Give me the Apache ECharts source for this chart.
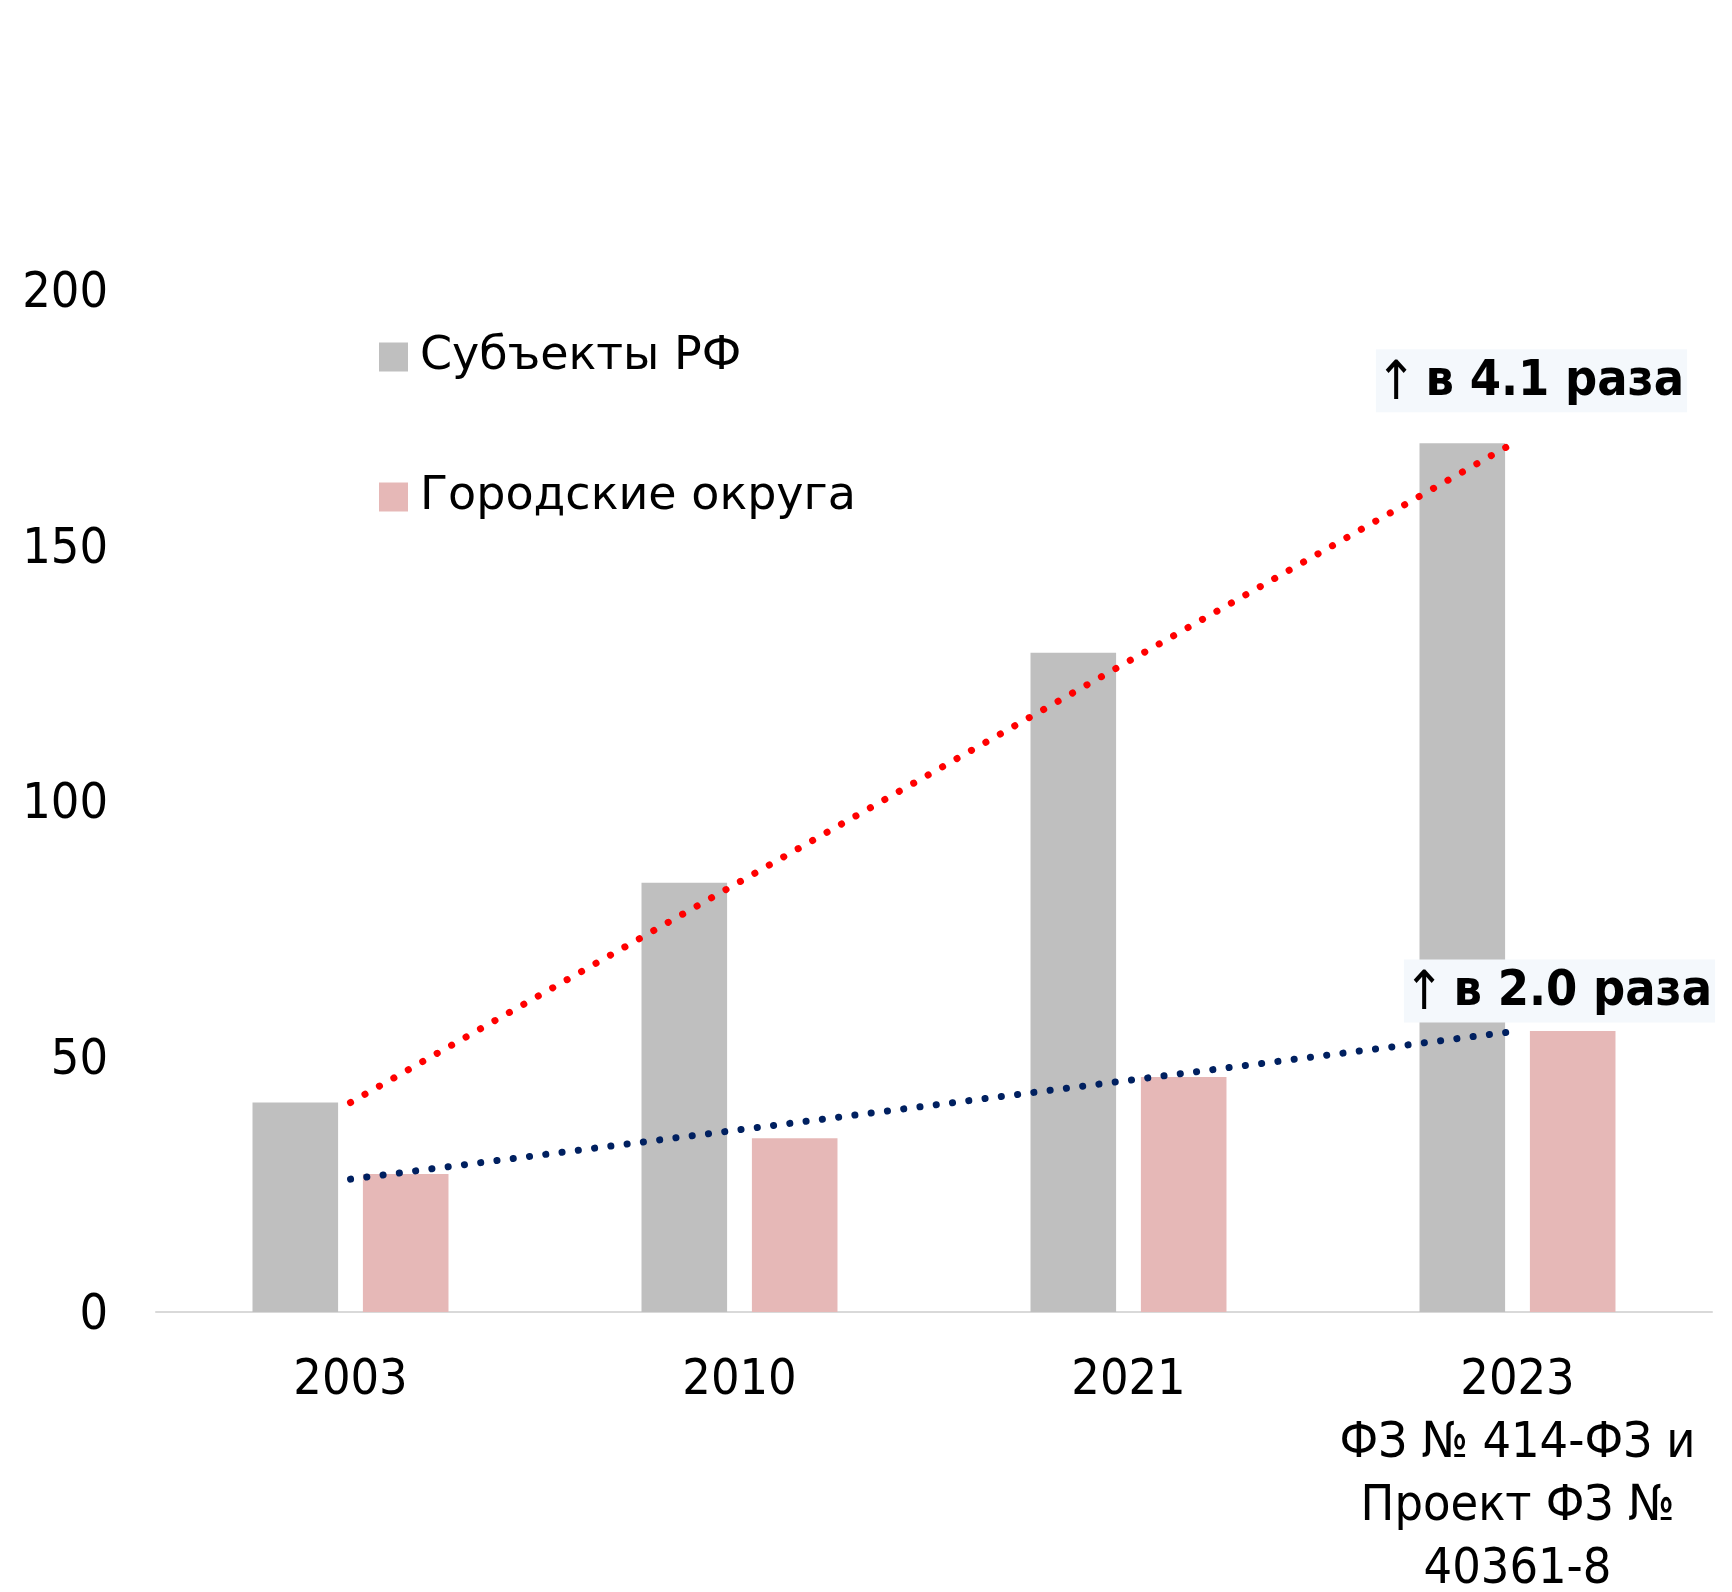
<!DOCTYPE html>
<html>
<head>
<meta charset="utf-8">
<script src="https://cdn.jsdelivr.net/npm/echarts@6/dist/echarts.min.js"></script>
<style>
html,body{margin:0;padding:0;background:#fff;}
#chart{width:1732px;height:1592px;}
</style>
</head>
<body>
<div id="chart"></div>
<script>
// ---- data ----
const categories = ['2003', '2010', '2021', '2023\nФЗ № 414-ФЗ и\nПроект ФЗ №\n40361-8'];
const seriesNames = ['Субъекты РФ', 'Городские округа'];
const subjectsRF = [41, 84, 129, 170];
const cityDistricts = [27, 34, 46, 55];
// trend line end points: [categoryIndex, value]
const trendSubjects = [[0, 41], [3, 170.5]];
const trendCities = [[0, 26], [3, 55]];
const annotationTexts = ['в 4.1 раза', 'в 2.0 раза'];
const yTicks = { min: 0, max: 200, interval: 50 };

const FONT = '"DejaVu Sans Condensed", "DejaVu Sans", sans-serif';
const FONT_WIDE = '"DejaVu Sans", sans-serif';

function annotated(points, text, offset, dist) {
  return points.map((p, i) => {
    if (i !== points.length - 1) return { value: p };
    return {
      value: p,
      label: {
        show: true,
        position: 'top',
        distance: dist,
        offset: offset,
        backgroundColor: '#F4F8FC',
        padding: [4, 3, 2, 0],
        formatter: '{a|↑}{b|' + text + '}',
        rich: {
          a: { fontFamily: FONT, fontSize: 54, fontWeight: 'normal', color: '#000', lineHeight: 57, padding: [6, 0, 0, 0] },
          b: { fontFamily: FONT, fontSize: 50, fontWeight: 'bold', color: '#000', lineHeight: 57, padding: [0, 0, 0, 9] }
        }
      }
    };
  });
}

const chart = echarts.init(document.getElementById('chart'), null, { renderer: 'canvas' });
chart.setOption({
  animation: false,
  backgroundColor: '#ffffff',
  grid: { left: 156, right: 20, top: 290, bottom: 280, containLabel: false, outerBoundsMode: 'none' },
  legend: {
    data: seriesNames,
    orient: 'vertical',
    left: 379,
    top: 334,
    padding: 0,
    icon: 'rect',
    itemWidth: 29,
    itemHeight: 29,
    itemGap: 94,
    textStyle: { fontFamily: FONT_WIDE, fontSize: 46, color: '#000', padding: [0, 0, 0, 7], lineHeight: 42 }
  },
  xAxis: {
    type: 'category',
    data: categories,
    axisTick: { show: false },
    axisLine: { lineStyle: { color: '#D9D9D9', width: 2 } },
    axisLabel: { fontFamily: FONT, fontSize: 50, color: '#000', margin: 38, lineHeight: 63, interval: 0 }
  },
  yAxis: {
    type: 'value',
    min: yTicks.min,
    max: yTicks.max,
    interval: yTicks.interval,
    axisLine: { show: false },
    axisTick: { show: false },
    splitLine: { show: false },
    axisLabel: {
      margin: 48,
      formatter: '{v|{value}}',
      rich: { v: { fontFamily: FONT, fontSize: 50, color: '#000', padding: [9, 0, 0, 0] } }
    }
  },
  series: [
    {
      name: seriesNames[0], type: 'bar', data: subjectsRF,
      barWidth: '22%', barGap: '29%',
      itemStyle: { color: '#BFBFBF' }
    },
    {
      name: seriesNames[1], type: 'bar', data: cityDistricts,
      barWidth: '22%', barGap: '29%',
      itemStyle: { color: '#E6B8B7' }
    },
    {
      name: 'trend1', type: 'line', data: annotated(trendSubjects, annotationTexts[0], [14, 0], 28),
      symbol: 'circle', symbolSize: 1, showSymbol: true, z: 5, clip: false,
      itemStyle: { color: 'rgba(0,0,0,0)' },
      lineStyle: { color: '#FF0000', width: 7, type: [0.1, 16.5], cap: 'round' }
    },
    {
      name: 'trend2', type: 'line', data: annotated(trendCities, annotationTexts[1], [42, 0], 8),
      symbol: 'circle', symbolSize: 1, showSymbol: true, z: 5, clip: false,
      itemStyle: { color: 'rgba(0,0,0,0)' },
      lineStyle: { color: '#002060', width: 7, type: [0.1, 16.3], cap: 'round' }
    }
  ]
});
</script>
</body>
</html>
